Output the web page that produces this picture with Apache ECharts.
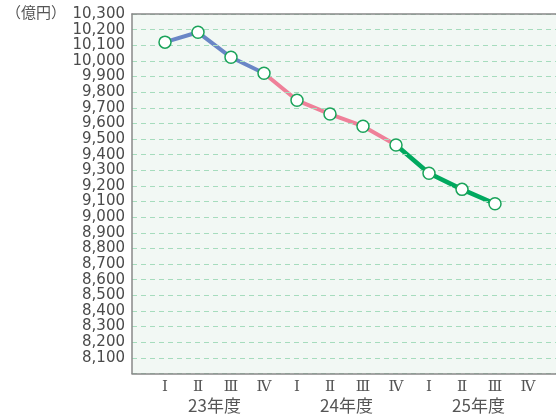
<!DOCTYPE html>
<html>
<head>
<meta charset="utf-8">
<script src="https://cdn.jsdelivr.net/npm/echarts@6/dist/echarts.min.js"></script>
<style>
  html, body { margin: 0; padding: 0; background: #fff; }
  #chart { width: 556px; height: 416px; }
</style>
</head>
<body>
<div id="chart"></div>
<script>
// 四半期ラベル
const quarters = ['Ⅰ', 'Ⅱ', 'Ⅲ', 'Ⅳ', 'Ⅰ', 'Ⅱ', 'Ⅲ', 'Ⅳ', 'Ⅰ', 'Ⅱ', 'Ⅲ', 'Ⅳ']
const years = ['23年度', '24年度', '25年度']
// 残高（億円）
const values = [10120, 10183, 10023, 9921, 9748, 9660, 9582, 9462, 9281, 9178, 9086]
// 線の色分け（開始index, 終了index）
const segBlue = [0, 3]
const segPink = [3, 7]
const segGreen = [7, 10]

// 両端に空のカテゴリを足して位置を合わせる
const cats = [''].concat(quarters, [''])
const pad = (from, to) => cats.map((c, i) => {
  const k = i - 1
  return k >= from && k <= to && k < values.length ? values[k] : null
})

const chart = echarts.init(document.getElementById('chart'))
const option = {
  animation: false,
  textStyle: { fontFamily: 'DejaVu Sans' },
  grid: {
    left: 132,
    top: 14,
    width: 429,
    bottom: 42.5,
    outerBoundsMode: 'none',
    containLabel: false,
    show: true,
    backgroundColor: '#f2f8f4',
    borderWidth: 0,
  },
  graphic: [
    {
      type: 'text',
      left: 6,
      top: 5,
      style: { text: '（億円）', fontSize: 15, fill: '#555', fontFamily: 'Noto Sans CJK JP' },
    },
  ],
  xAxis: [
    {
      type: 'category',
      data: cats,
      boundaryGap: false,
      axisLine: { show: true, lineStyle: { color: '#888', width: 1.5 } },
      axisTick: { show: false },
      axisLabel: {
        interval: 0,
        margin: 6,
        fontSize: 15,
        color: '#555',
        fontFamily: 'DejaVu Serif',
      },
      splitLine: { show: false },
      z: 3,
    },
    {
      type: 'value',
      min: 0,
      max: cats.length - 1,
      position: 'bottom',
      axisLine: { show: false },
      axisTick: { show: false },
      splitLine: { show: false },
      axisLabel: {
        customValues: years.map((y, i) => 2.5 + 4 * i),
        formatter: (v) => years[Math.round((v - 2.5) / 4)] || '',
        margin: 24,
        fontSize: 17,
        color: '#555',
        fontFamily: 'Noto Sans CJK JP',
      },
    },
    {
      type: 'value',
      min: 0,
      max: 1,
      position: 'top',
      axisLine: { show: true, lineStyle: { color: '#888', width: 1.5 } },
      axisTick: { show: false },
      axisLabel: { show: false },
      splitLine: { show: false },
      z: 3,
    },
  ],
  yAxis: {
    type: 'value',
    min: 8000,
    max: 10300,
    interval: 100,
    axisLine: { show: true, lineStyle: { color: '#888', width: 1.5 } },
    axisTick: { show: false },
    axisLabel: {
      margin: 7,
      fontSize: 15,
      color: '#4a4a4a',
      formatter: (v) => (v === 8000 ? '' : v.toLocaleString('en-US')),
    },
    splitLine: {
      show: true,
      lineStyle: { color: '#a6dcbd', width: 1, type: [5, 4] },
    },
    z: 3,
  },
  series: [
    {
      type: 'line',
      data: pad(segBlue[0], segBlue[1]),
      showSymbol: false,
      lineStyle: { color: '#6a86c6', width: 4 },
      z: 2,
    },
    {
      type: 'line',
      data: pad(segPink[0], segPink[1]),
      showSymbol: false,
      lineStyle: { color: '#ef8099', width: 4 },
      z: 2,
    },
    {
      type: 'line',
      data: pad(segGreen[0], segGreen[1]),
      showSymbol: false,
      lineStyle: { color: '#00a95f', width: 4.5 },
      z: 2,
    },
    {
      type: 'scatter',
      data: pad(0, values.length - 1),
      symbol: 'circle',
      symbolSize: 12,
      itemStyle: { color: '#fff', borderColor: '#1aa35a', borderWidth: 1.5, opacity: 1 },
      z: 5,
    },
  ],
}
chart.setOption(option)
</script>
</body>
</html>
